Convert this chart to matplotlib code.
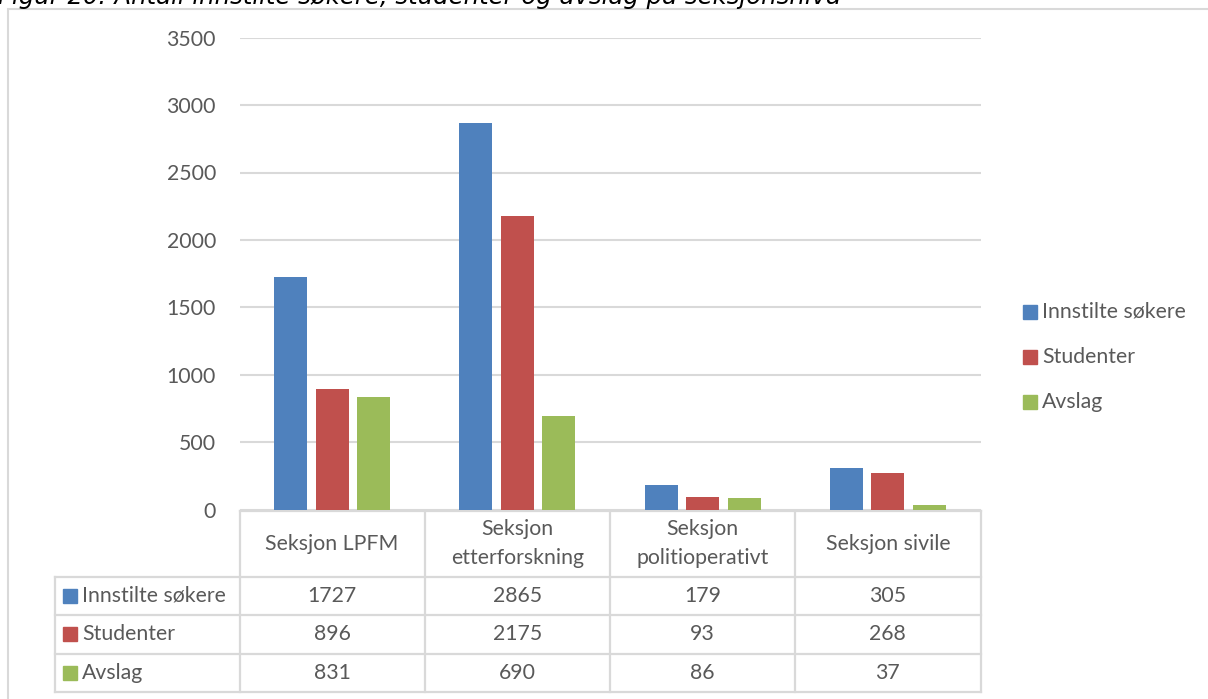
import matplotlib
matplotlib.use("Agg")
import matplotlib.pyplot as plt
from matplotlib.patches import Rectangle
from matplotlib.transforms import blended_transform_factory
import numpy as np

# ---- data ----
categories = ["Seksjon LPFM", "Seksjon\netterforskning", "Seksjon\npolitioperativt", "Seksjon sivile"]
series_names = ["Innstilte søkere", "Studenter", "Avslag"]
innstilte = [1727, 2865, 179, 305]
studenter = [896, 2175, 93, 268]
avslag = [831, 690, 86, 37]
y_ticks = [0, 500, 1000, 1500, 2000, 2500, 3000, 3500]
title = "Figur 20: Antall innstilte søkere, studenter og avslag på seksjonsnivå"

series_values = [innstilte, studenter, avslag]
colors = ["#4F81BD", "#C0504D", "#9BBB59"]
text_col = "#595959"
grid_col = "#D9D9D9"
FONT = "Lato"
FS = 15.3

W, H = 1208, 699
fig = plt.figure(figsize=(W / 100, H / 100), dpi=100)

def fx(p):
    return p / W

def fy(p):
    return 1 - p / H

ax_left, ax_right, ax_top, ax_bot = 239.5, 980.5, 37.7, 509.5
ax = fig.add_axes([fx(ax_left), fy(ax_bot), fx(ax_right - ax_left), (ax_bot - ax_top) / H])

x = np.arange(len(categories))
pitch = 0.224
width = 0.177
for i, (vals, name, c) in enumerate(zip(series_values, series_names, colors)):
    ax.bar(x + (i - 1) * pitch, vals, width, color=c, label=name, zorder=3)

ax.set_xlim(-0.5, len(categories) - 0.5)
ax.set_ylim(0, 3500)
ax.set_yticks(y_ticks)
ax.set_yticklabels([str(t) for t in y_ticks], fontsize=FS, color=text_col, family=FONT)
ax.tick_params(axis="y", length=0, pad=17)
ax.set_xticks([])
ax.grid(axis="y", color=grid_col, linewidth=1.5, zorder=0)
for s in ax.spines.values():
    s.set_visible(False)

# ---- data table below axes ----
trans = blended_transform_factory(ax.transData, fig.transFigure)
hdr_top, row_top = 510.5, 576.7
row_lines = [row_top, 615.0, 653.7, 691.7]
lw = 1.6
bounds = np.arange(len(categories) + 1) - 0.5
for b in bounds:
    ax.add_line(plt.Line2D([b, b], [fy(hdr_top), fy(row_lines[-1])], transform=trans,
                           color=grid_col, lw=lw, clip_on=False))
ax.add_line(plt.Line2D([bounds[0], bounds[-1]], [fy(hdr_top), fy(hdr_top)], transform=trans,
                       color=grid_col, lw=lw, clip_on=False))
label_left = 54.5
for r in row_lines:
    fig.add_artist(plt.Line2D([fx(label_left), fx(ax_right)], [fy(r), fy(r)],
                              color=grid_col, lw=lw))
fig.add_artist(plt.Line2D([fx(label_left), fx(label_left)], [fy(row_top), fy(row_lines[-1])],
                          color=grid_col, lw=lw))

hdr_c = (hdr_top + row_top) / 2
for xi, cat in zip(x, categories):
    ax.text(xi, fy(hdr_c), cat, transform=trans, ha="center", va="center",
            fontsize=FS, color=text_col, family=FONT, linespacing=1.6)

for ri, (vals, name, c) in enumerate(zip(series_values, series_names, colors)):
    yc = (row_lines[ri] + row_lines[ri + 1]) / 2
    fig.add_artist(Rectangle((fx(63), fy(yc + 7)), fx(14), 14 / H, color=c))
    fig.text(fx(82), fy(yc), name, ha="left", va="center", fontsize=FS, color=text_col, family=FONT)
    for xi, v in zip(x, vals):
        ax.text(xi, fy(yc), str(v), transform=trans, ha="center", va="center",
                fontsize=FS, color=text_col, family=FONT)

# ---- legend ----
leg_rows = [311.7, 356.7, 401.7]
for yc, name, c in zip(leg_rows, series_names, colors):
    fig.add_artist(Rectangle((fx(1023), fy(yc + 7)), fx(14), 14 / H, color=c))
    fig.text(fx(1042), fy(yc), name, ha="left", va="center", fontsize=FS, color=text_col, family=FONT)

# ---- chart frame ----
fig.add_artist(Rectangle((fx(8), fy(720)), fx(1230), (720 - 9) / H, fill=False,
                         edgecolor=grid_col, lw=1.5))

# ---- title (cut off at top, as in the source) ----
fig.text(fx(-2), fy(4), title, ha="left", va="baseline", fontsize=17.6,
         style="italic", family="DejaVu Sans", color="black")

fig.savefig("out.png", dpi=100)
